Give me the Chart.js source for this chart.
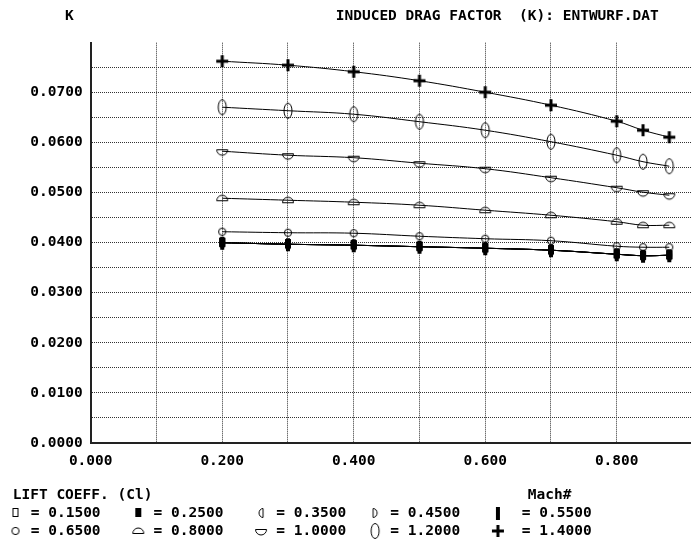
<!DOCTYPE html>
<html>
<head>
<meta charset="utf-8">
<script src="https://cdn.jsdelivr.net/npm/chart.js@4/dist/chart.umd.min.js"></script>
<style>
html,body{margin:0;padding:0;background:#fff;}
canvas{display:block;}
</style>
</head>
<body>
<canvas id="c" width="691" height="541"></canvas>
<script>
// ---- data ----
const machs = [0.2, 0.3, 0.4, 0.5, 0.6, 0.7, 0.8, 0.84, 0.88];
const liftCoeffs = ['0.1500', '0.2500', '0.3500', '0.4500', '0.5500', '0.6500', '0.8000', '1.0000', '1.2000', '1.4000'];
const k015 = [0.0400, 0.0397, 0.0395, 0.0392, 0.0389, 0.0385, 0.0377, 0.0374, 0.0375];
const k025 = [0.0400, 0.0397, 0.0395, 0.0392, 0.0389, 0.0385, 0.0377, 0.0374, 0.0375];
const k035 = [0.0400, 0.0397, 0.0395, 0.0392, 0.0389, 0.0385, 0.0377, 0.0374, 0.0375];
const k045 = [0.0400, 0.0397, 0.0395, 0.0392, 0.0389, 0.0385, 0.0377, 0.0374, 0.0375];
const k055 = [0.0400, 0.0397, 0.0395, 0.0392, 0.0389, 0.0385, 0.0377, 0.0374, 0.0375];
const k065 = [0.0422, 0.0420, 0.0419, 0.0413, 0.0408, 0.0404, 0.0393, 0.0391, 0.0391];
const k080 = [0.0489, 0.0485, 0.0481, 0.0475, 0.0465, 0.0455, 0.0442, 0.0435, 0.0435];
const k100 = [0.0583, 0.0575, 0.0570, 0.0559, 0.0548, 0.0530, 0.0510, 0.0501, 0.0495];
const k120 = [0.0671, 0.0664, 0.0657, 0.0642, 0.0625, 0.0602, 0.0575, 0.0562, 0.0553];
const k140 = [0.0763, 0.0755, 0.0742, 0.0724, 0.0701, 0.0675, 0.0643, 0.0625, 0.0611];
const seriesValues = [k015, k025, k035, k045, k055, k065, k080, k100, k120, k140];
const titleText = 'INDUCED DRAG FACTOR  (K): ENTWURF.DAT';
const yAxisName = 'K';
const legendTitle = 'LIFT COEFF. (Cl)';
const legendTitleRight = 'Mach#';

// ---- marker shapes ----
function mk(w, h, draw) {
  const c = document.createElement('canvas');
  c.width = w; c.height = h;
  const g = c.getContext('2d');
  g.strokeStyle = '#000'; g.fillStyle = '#000'; g.lineWidth = 1;
  draw(g);
  return c;
}
const shapes = [
  mk(16, 20, g => { g.strokeRect(5.5, 5.5, 5, 8); }),                                   // open rect
  mk(16, 20, g => { g.fillRect(5, 5, 6, 9); }),                                          // filled rect
  mk(16, 20, g => { g.beginPath(); g.ellipse(10, 10, 4, 4.5, 0, Math.PI/2, 3*Math.PI/2); g.closePath(); g.stroke(); }),
  mk(16, 20, g => { g.beginPath(); g.ellipse(6, 10, 4, 4.5, 0, -Math.PI/2, Math.PI/2); g.closePath(); g.stroke(); }),
  mk(16, 22, g => { g.fillRect(6, 5, 4, 13); }),                                         // bar
  mk(16, 20, g => { g.beginPath(); g.arc(8, 10, 3.6, 0, 2*Math.PI); g.stroke(); }),        // circle
  mk(16, 20, g => { g.beginPath(); g.arc(8, 12.5, 5.5, Math.PI, 0); g.closePath(); g.stroke(); }), // dome
  mk(16, 20, g => { g.beginPath(); g.moveTo(2.5, 8.5); g.lineTo(13.5, 8.5); g.arc(8, 8.5, 5.5, 0, Math.PI); g.closePath(); g.stroke(); }), // bowl
  mk(16, 22, g => { g.beginPath(); g.ellipse(8, 11, 4, 7.5, 0, 0, 2*Math.PI); g.stroke(); }), // oval
  mk(16, 20, g => { g.fillRect(6.5, 4, 3, 12); g.fillRect(2, 8.5, 12, 3); })             // plus
];

const FONT = '"DejaVu Sans Mono", "Liberation Mono", monospace';
const legendLead = [0, 0, 0, 0, 1];
const legendTrail = [3, 3, 2, 3, 0];

const datasets = liftCoeffs.map((lbl, i) => ({
  label: lbl,
  data: machs.map((m, j) => ({x: m, y: seriesValues[i][j]})),
  borderColor: '#000',
  backgroundColor: '#000',
  borderWidth: 1,
  tension: 0.4,
  pointStyle: shapes[i],
  pointRadius: 5,
  fill: false
}));

new Chart(document.getElementById('c'), {
  type: 'line',
  data: { datasets },
  options: {
    responsive: false,
    animation: false,
    devicePixelRatio: 1,
    layout: { padding: { left: 4, right: 0, top: 0, bottom: -7.25 }, autoPadding: false },
    plugins: {
      tooltip: { enabled: false },
      title: {
        display: true,
        align: 'start',
        text: ' '.repeat(7) + yAxisName + ' '.repeat(30) + titleText,
        color: '#000',
        font: { family: FONT, size: 14.5, weight: 'bold' },
        padding: { top: 8, bottom: 17.3 }
      },
      legend: {
        display: true,
        position: 'bottom',
        align: 'start',
        title: {
          display: true,
          text: ' ' + legendTitle + ' '.repeat(43) + legendTitleRight,
          position: 'start',
          color: '#000',
          font: { family: FONT, size: 14.5, weight: 'bold', lineHeight: 1.0 },
          padding: 0
        },
        labels: {
          usePointStyle: true,
          pointStyleWidth: 16,
          padding: 3.5,
          color: '#000',
          font: { family: FONT, size: 14.5, weight: 'bold' },
          generateLabels(chart) {
            const items = Chart.defaults.plugins.legend.labels.generateLabels(chart);
            items.forEach((it, i) => {
              const col = i % 5;
              it.text = ' '.repeat(legendLead[col]) + '= ' + liftCoeffs[i] + ' '.repeat(legendTrail[col]);
            });
            return items;
          }
        }
      }
    },
    scales: {
      x: {
        type: 'linear',
        min: 0,
        max: 0.913,
        afterBuildTicks(s) { s.ticks = s.ticks.filter(t => t.value <= 0.8001); },
        afterFit(s) { s.height = 45; },
        ticks: {
          stepSize: 0.1,
          padding: 10,
          color: '#000',
          maxRotation: 0,
          autoSkip: false,
          font: { family: FONT, size: 14.5, weight: 'bold' },
          callback(v) { return (Math.round(v * 10) % 2 === 0) ? v.toFixed(3) : ''; }
        },
        grid: {
          drawTicks: false,
          color: '#333',
          lineWidth: 1
        },
        border: { display: true, color: '#222', width: 2, dash: [1, 1] }
      },
      y: {
        type: 'linear',
        min: 0,
        max: 0.08,
        afterFit(s) { s.width = 86.7; },
        ticks: {
          stepSize: 0.005,
          padding: 8,
          color: '#000',
          autoSkip: false,
          font: { family: FONT, size: 14.5, weight: 'bold' },
          callback(v) {
            const r = Math.round(v * 1000);
            return (r % 10 === 0 && r < 80) ? v.toFixed(4) : '';
          }
        },
        grid: {
          drawTicks: false,
          color: c => (c.tick && c.tick.value > 0.0799) ? 'rgba(0,0,0,0)' : '#333',
          lineWidth: 1
        },
        border: { display: true, color: '#222', width: 2, dash: [1, 1] }
      }
    }
  }
});
</script>
</body>
</html>
